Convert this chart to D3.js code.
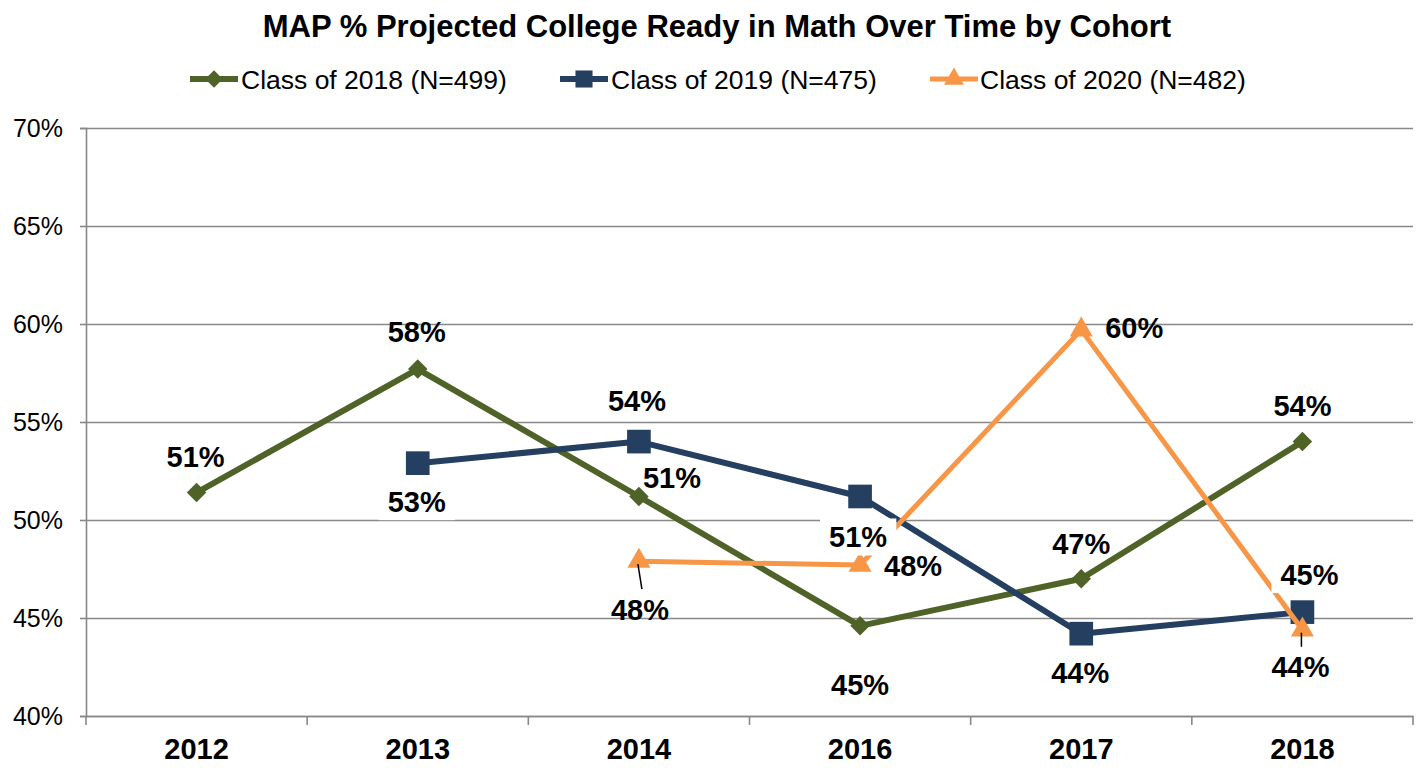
<!DOCTYPE html>
<html>
<head>
<meta charset="utf-8">
<script src="https://cdn.jsdelivr.net/npm/d3@7"></script>
<style>
  html, body { margin: 0; padding: 0; background: #fff; }
  svg { display: block; font-family: "Liberation Sans", Arial, sans-serif; }
</style>
</head>
<body>
<svg id="chart" width="1423" height="771"></svg>
<script>
// ---- Data ----
const title = "MAP % Projected College Ready in Math Over Time by Cohort";
const categories = ["2012", "2013", "2014", "2016", "2017", "2018"];
const seriesNames = ["Class of 2018 (N=499)", "Class of 2019 (N=475)", "Class of 2020 (N=482)"];
const class2018 = [51.4, 57.7, 51.2, 44.6, 47.0, 54.0];
const class2019 = [null, 52.9, 54.0, 51.2, 44.2, 45.3];
const class2020 = [null, null, 47.9, 47.7, 59.7, 44.4];
const yTicks = [40, 45, 50, 55, 60, 65, 70];

// ---- Styles / label placement (not data) ----
const colors = ["#4F6228", "#243F60", "#F79646"];
const lineWidths = [6, 6, 5];
const markerTypes = ["diamond", "square", "triangle"];
const labelFilled = [false, true, false];
const labelOffsets = [
  [[-1, -36], [-1, -38], [33, -19], [0, 59], [0, -35], [0, -36]],
  [null, [-1, 38], [-2, -41], [-2, 40], [-1, 39], [7, -38]],
  [null, null, [1, 48], [53, 0], [53, -2], [-2, 37]]
];
const leaderLines = [[2, 2], [2, 5]]; // [series, index] with leader line

(function () {
const svg = d3.select("#chart");
const plotLeft = 86, plotRight = 1413, plotTop = 128, plotBottom = 716;

const x = d3.scaleBand().domain(categories).range([plotLeft, plotRight]).padding(0);
const y = d3.scaleLinear().domain([40, 70]).range([plotBottom, plotTop]);
const cx = c => x(c) + x.bandwidth() / 2;

const gridColor = "#888888";
const fontFam = "'Liberation Sans', Arial, sans-serif";

// Title
svg.append("text")
  .attr("x", 717).attr("y", 37)
  .attr("text-anchor", "middle")
  .attr("font-size", 31).attr("font-weight", "bold")
  .attr("fill", "#000")
  .text(title);

// Gridlines
svg.append("g")
  .attr("transform", `translate(${plotLeft},0)`)
  .call(d3.axisLeft(y).tickValues(yTicks).tickSize(-(plotRight - plotLeft)).tickFormat(""))
  .call(g => g.select(".domain").remove())
  .call(g => g.selectAll("line").attr("stroke", gridColor).attr("stroke-width", 1.6));

// Y axis
svg.append("g")
  .attr("transform", `translate(${plotLeft},0)`)
  .call(d3.axisLeft(y).tickValues(yTicks).tickSize(6).tickPadding(17).tickFormat(d => d + "%"))
  .call(g => g.select(".domain").attr("stroke", gridColor).attr("stroke-width", 1.6))
  .call(g => g.selectAll("line").attr("stroke", gridColor).attr("stroke-width", 1.6))
  .call(g => g.selectAll("text").attr("font-size", 25).attr("fill", "#000").attr("font-family", fontFam));

// X axis
svg.append("g")
  .attr("transform", `translate(0,${plotBottom})`)
  .call(d3.axisBottom(x).tickSize(0).tickPadding(22))
  .call(g => g.select(".domain").attr("stroke", gridColor).attr("stroke-width", 1.6))
  .call(g => g.selectAll("text").attr("font-size", 29).attr("font-weight", "bold").attr("fill", "#000")
    .attr("font-family", fontFam));

// Category boundary ticks
const boundaries = categories.map(c => x(c)).concat([plotRight]);
svg.append("g").selectAll("line").data(boundaries).join("line")
  .attr("x1", d => d).attr("x2", d => d)
  .attr("y1", plotBottom).attr("y2", plotBottom + 9)
  .attr("stroke", gridColor).attr("stroke-width", 1.6);

// Marker helper
function marker(sel, type, scale) {
  if (type === "diamond") {
    sel.append("path").attr("d", d3.symbol().type(d3.symbolSquare).size(190 * scale)())
      .attr("transform", "rotate(45)");
  } else if (type === "square") {
    sel.append("path").attr("d", d3.symbol().type(d3.symbolSquare).size(560 * scale)());
  } else {
    sel.append("path").attr("d", d3.symbol().type(d3.symbolTriangle).size(230 * scale)());
  }
}

const allSeries = [class2018, class2019, class2020];

// Lines and markers
allSeries.forEach((vals, si) => {
  const pts = categories.map((c, i) => ({ c, v: vals[i], i })).filter(d => d.v != null);
  svg.append("path")
    .datum(pts)
    .attr("fill", "none")
    .attr("stroke", colors[si])
    .attr("stroke-width", lineWidths[si])
    .attr("stroke-linejoin", "round")
    .attr("d", d3.line().x(d => cx(d.c)).y(d => y(d.v)));
  const mg = svg.append("g").attr("fill", colors[si]);
  pts.forEach(d => {
    const g = mg.append("g").attr("transform", `translate(${cx(d.c)},${y(d.v)})`);
    marker(g, markerTypes[si], 1);
  });
});

// Data labels (Class of 2019 labels have white fill)
const labelG = svg.append("g");
allSeries.forEach((vals, si) => {
  vals.forEach((v, i) => {
    if (v == null) return;
    const off = labelOffsets[si][i];
    const px = cx(categories[i]) + off[0];
    const py = y(v) + off[1];
    const g = labelG.append("g").attr("transform", `translate(${px},${py})`);
    const t = g.append("text")
      .attr("text-anchor", "middle")
      .attr("dy", "0.36em")
      .attr("font-size", 29).attr("font-weight", "bold")
      .attr("fill", "#000")
      .text(Math.round(v) + "%");
    if (labelFilled[si]) {
      const bb = t.node().getBBox();
      g.insert("rect", "text")
        .attr("x", bb.x - 9).attr("y", -18)
        .attr("width", bb.width + 18).attr("height", 37)
        .attr("fill", "#fff");
    }
  });
});

// Leader lines
leaderLines.forEach(([si, i]) => {
  const v = allSeries[si][i];
  const off = labelOffsets[si][i];
  const px = cx(categories[i]), py = y(v);
  svg.append("line")
    .attr("x1", px - 1).attr("y1", py + 3)
    .attr("x2", px + (off[0] > 0 ? 4 : 0) - 1).attr("y2", py + off[1] - 20)
    .attr("stroke", "#000").attr("stroke-width", 1.5);
});

// Legend
const legendItems = [
  { x: 190, tx: 241, ms: 0.8 },
  { x: 560, tx: 611, ms: 0.52 },
  { x: 930, tx: 980, ms: 0.75 }
];
const legY = 79;
legendItems.forEach((it, si) => {
  const g = svg.append("g");
  g.append("line")
    .attr("x1", it.x).attr("x2", it.x + 48)
    .attr("y1", legY).attr("y2", legY)
    .attr("stroke", colors[si]).attr("stroke-width", lineWidths[si]);
  const mg = g.append("g").attr("fill", colors[si])
    .attr("transform", `translate(${it.x + 24},${legY})`);
  marker(mg, markerTypes[si], it.ms);
  g.append("text")
    .attr("x", it.tx).attr("y", legY)
    .attr("dy", "0.36em")
    .attr("font-size", 26.5).attr("fill", "#000")
    .text(seriesNames[si]);
});
})();
</script>
</body>
</html>
